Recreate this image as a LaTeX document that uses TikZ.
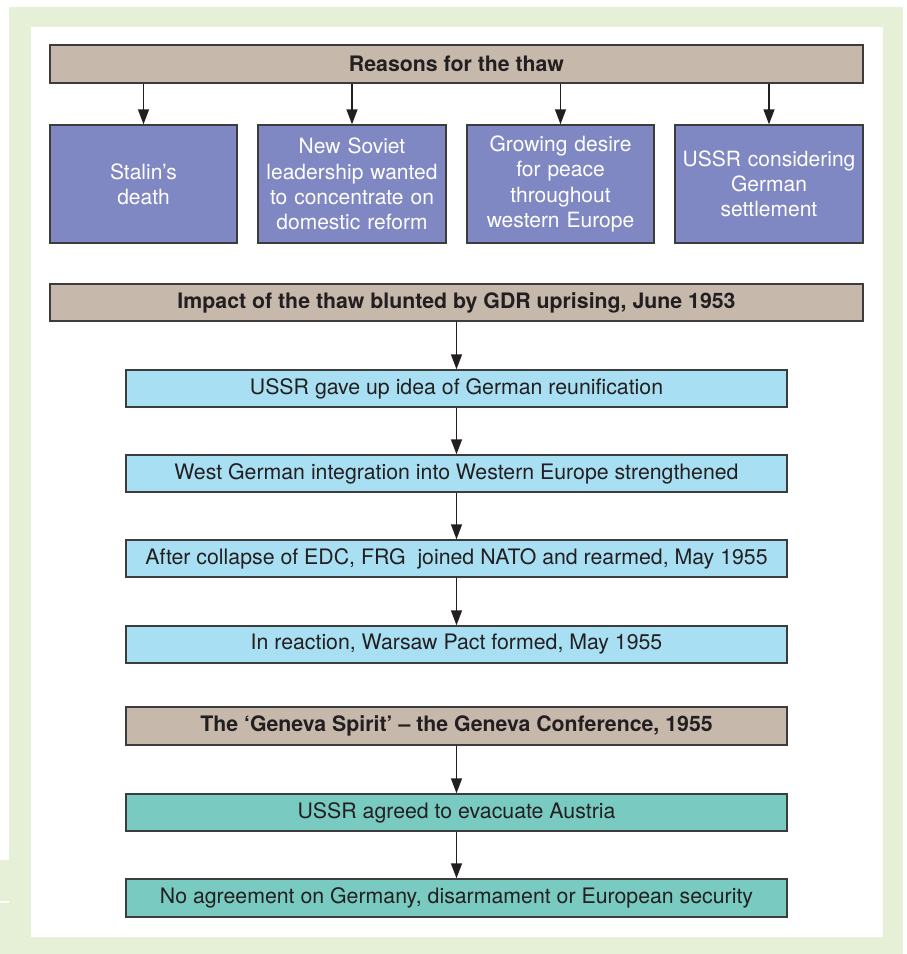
\documentclass[tikz,border=0pt]{standalone}
\usepackage{fontspec}
\setmainfont{TeX Gyre Heros}
\usetikzlibrary{arrows.meta}
\definecolor{framegreen}{HTML}{E5F0D6}
\definecolor{headbrown}{HTML}{C6B8AB}
\definecolor{causepurple}{HTML}{8088C3}
\definecolor{eventblue}{HTML}{A9DFF2}
\definecolor{outcometeal}{HTML}{79CBC1}
\definecolor{inkgray}{HTML}{231F20}
\definecolor{edgegray}{HTML}{3C3C3C}
\tikzset{
  box/.style={draw=edgegray, line width=1.4pt, inner sep=0pt, align=center,
    text=inkgray, font=\fontsize{21.3}{25.3}\selectfont},
  headbox/.style={box, fill=headbrown, font=\fontsize{21.3}{25}\selectfont\bfseries},
  causebox/.style={box, fill=causepurple, text=white, text width=186pt,
    font=\fontsize{21}{25.3}\selectfont},
  eventbox/.style={box, fill=eventblue},
  outcomebox/.style={box, fill=outcometeal},
  flow/.style={draw=inkgray, line width=1.4pt, -{Triangle[length=15pt,width=11pt]}},
}
\begin{document}
\begin{tikzpicture}[x=1pt,y=-1pt]
\useasboundingbox (0,0) rectangle (907,954);
% frame
\fill[framegreen] (9,7) rectangle (903,954);
\fill[framegreen] (0,860) rectangle (9,954);
\fill[white] (0,901) rectangle (9,903);
\fill[white] (31,27) rectangle (883,937);

% reasons
\node[headbox, minimum width=813pt, minimum height=38pt] (reasons) at (456.5,64) {Reasons for the thaw};
\node[causebox, minimum width=187pt, minimum height=118pt] (stalin) at (143.5,184) {Stalin’s\\death};
\node[causebox, minimum width=188pt, minimum height=118pt] (leader) at (352,184) {New Soviet\\leadership wanted\\to concentrate on\\domestic reform};
\node[causebox, minimum width=187pt, minimum height=118pt] (peace) at (560.5,184) {Growing desire\\for peace\\throughout\\western Europe};
\node[causebox, minimum width=188pt, minimum height=118pt] (settle) at (769,184) {USSR considering\\German\\settlement};
\foreach \c in {stalin,leader,peace,settle}
  \draw[flow] (reasons.south -| \c.north) -- (\c.north);

% impact
\node[headbox, minimum width=813pt, minimum height=37pt] (impact) at (456.5,302.5) {Impact of the thaw blunted by GDR uprising, June 1953};
\node[eventbox, minimum width=661pt, minimum height=37pt] (reunif) at (456.5,388.5) {USSR gave up idea of German reunification};
\node[eventbox, minimum width=661pt, minimum height=37pt] (integr) at (456.5,473.5) {West German integration into Western Europe strengthened};
\node[eventbox, minimum width=661pt, minimum height=37pt] (nato) at (456.5,558.5) {After collapse of EDC, FRG\ \ joined NATO and rearmed, May 1955};
\node[eventbox, minimum width=661pt, minimum height=37pt] (warsaw) at (456.5,644.5) {In reaction, Warsaw Pact formed, May 1955};
\draw[flow] (impact.south -| reunif.north) -- (reunif.north);
\draw[flow] (reunif) -- (integr);
\draw[flow] (integr) -- (nato);
\draw[flow] (nato) -- (warsaw);

% geneva
\node[headbox, minimum width=661pt, minimum height=38pt] (geneva) at (456.5,726) {The ‘Geneva Spirit’ – the Geneva Conference, 1955};
\node[outcomebox, minimum width=661pt, minimum height=37pt] (austria) at (456.5,812.5) {USSR agreed to evacuate Austria};
\node[outcomebox, minimum width=661pt, minimum height=38pt] (noagree) at (456.5,898) {No agreement on Germany, disarmament or European security};
\draw[flow] (geneva) -- (austria);
\draw[flow] (austria) -- (noagree);
\end{tikzpicture}
\end{document}
